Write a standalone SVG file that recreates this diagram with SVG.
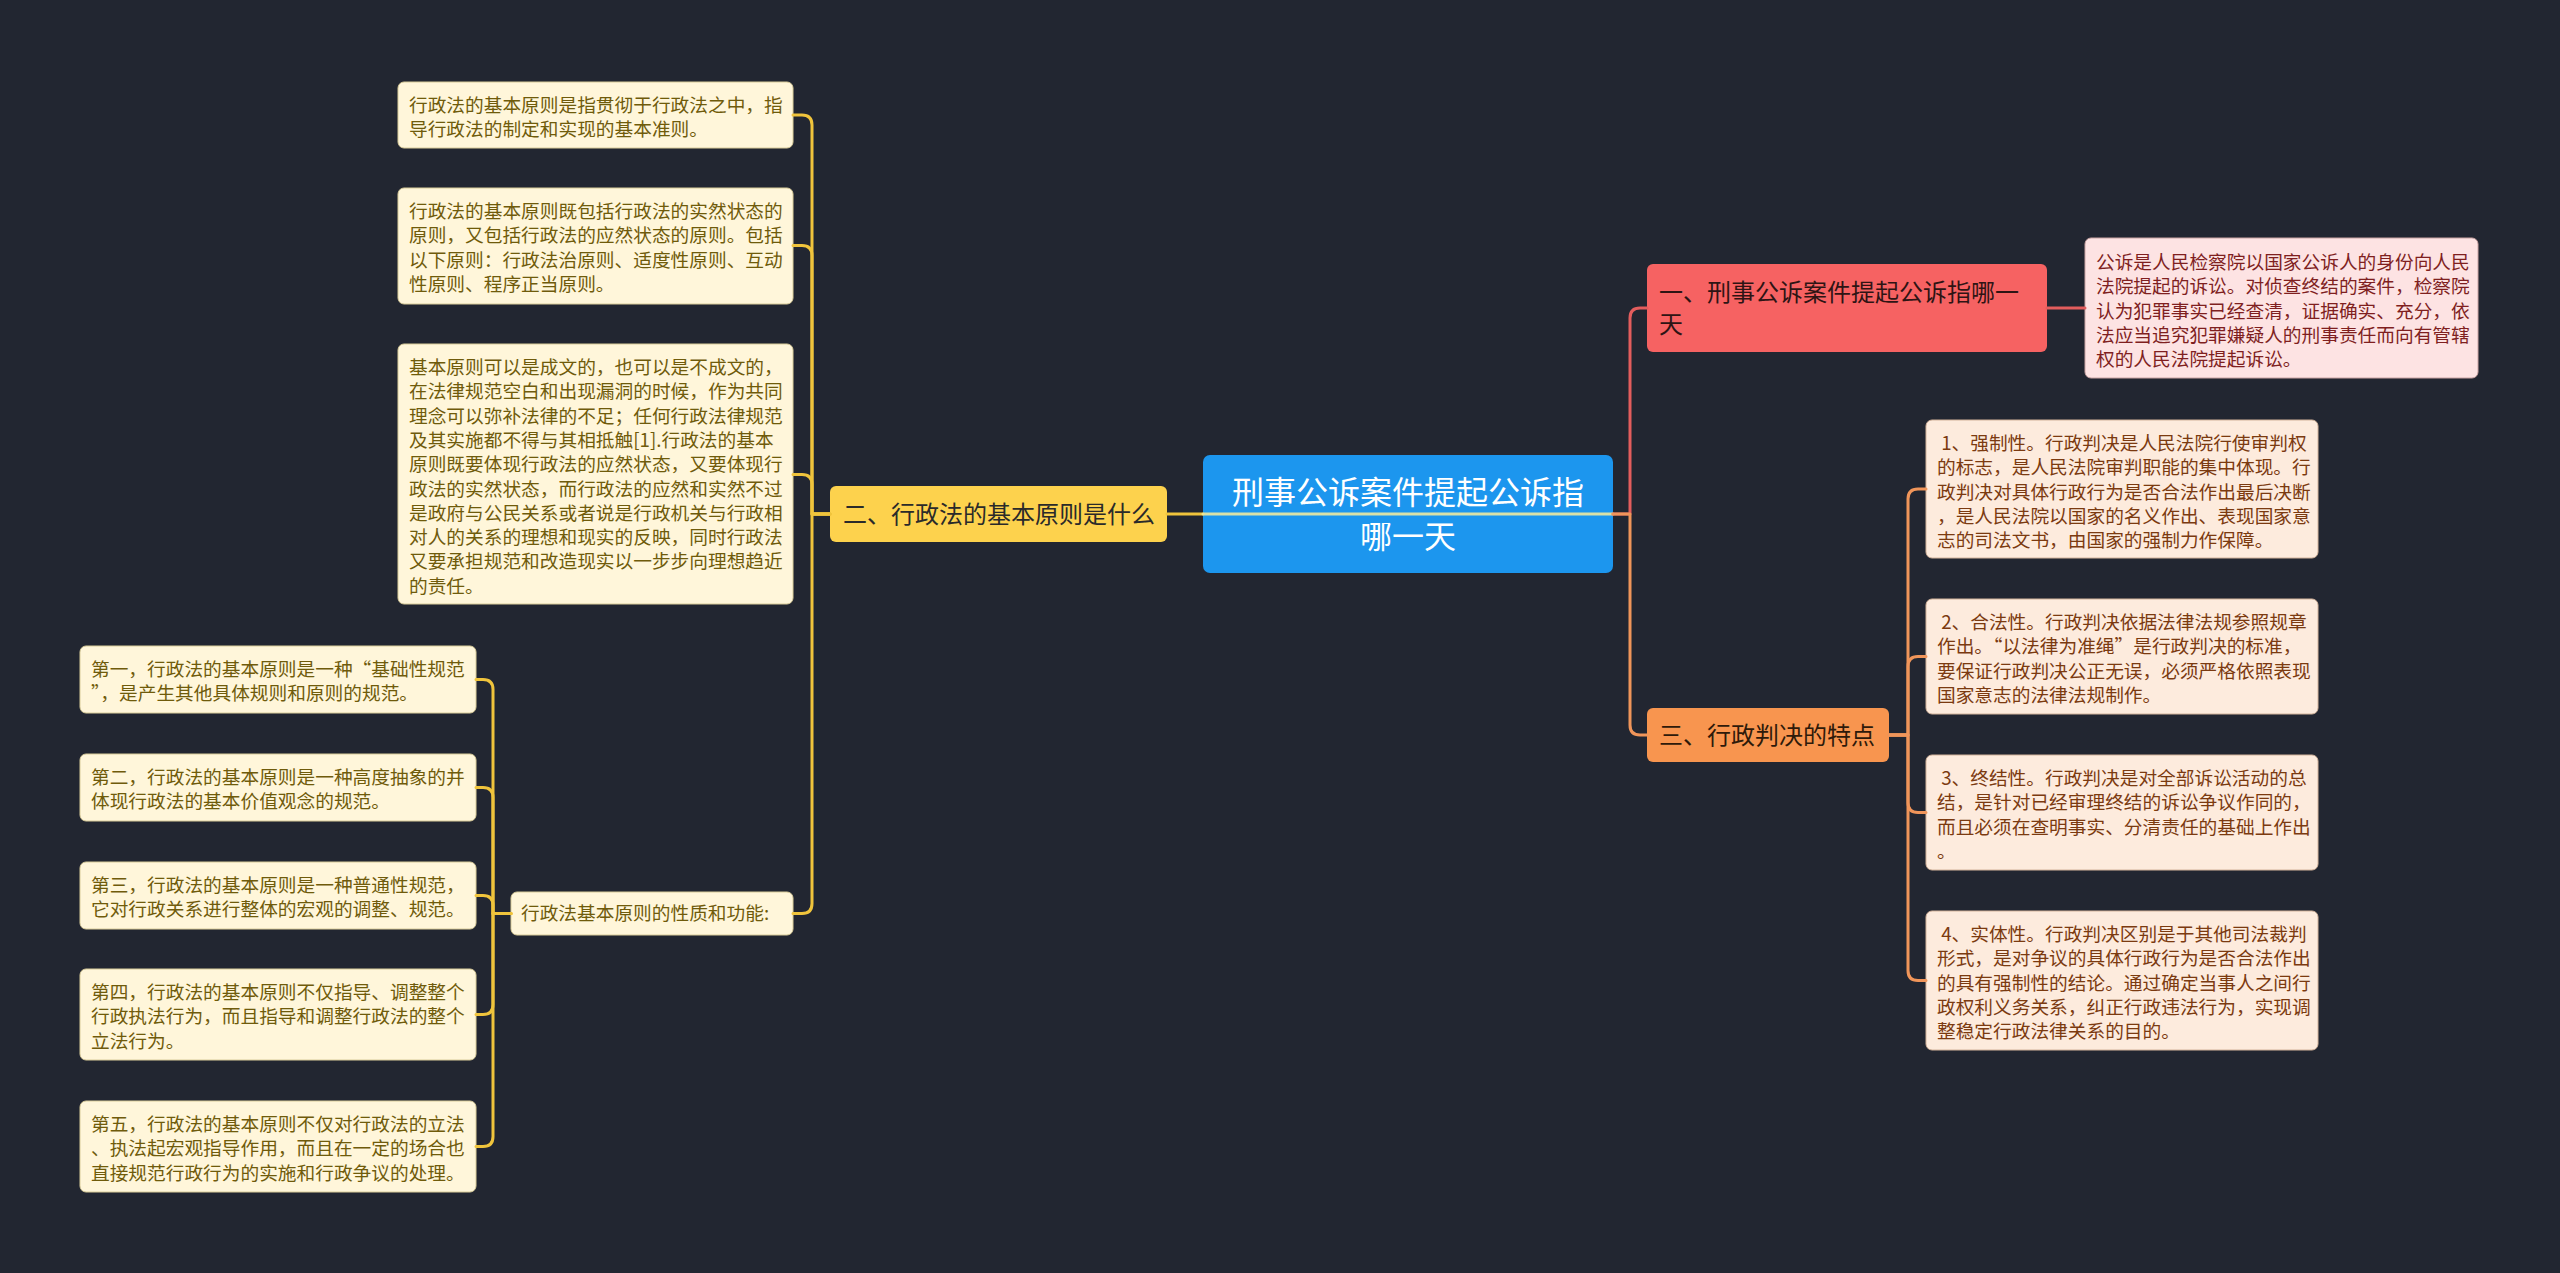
<svg xmlns="http://www.w3.org/2000/svg" width="2560" height="1273" viewBox="0 0 2560 1273">
<style>
text{font-family:"Noto Sans CJK SC","Microsoft YaHei",sans-serif}
.lf{font-size:18.7px}
.yl rect{fill:#FFF6DA;stroke:#d9cc9a;stroke-width:1}
.yl text{fill:#6F5B0B}
.rl rect{fill:#FDE3E3;stroke:#c9a3a3;stroke-width:1}
.rl text{fill:#7F1F1F}
.ol rect{fill:#FDEBDD;stroke:#d3b39b;stroke-width:1}
.ol text{fill:#7B3A10}
.br{font-size:24px}
.c{fill:none;stroke-width:3;stroke-linecap:round;stroke-linejoin:round}
.cy{stroke:#F0C43C}
.cr{stroke:#E35D5D}
.co{stroke:#F0955A}
</style>
<rect x="0" y="0" width="2560" height="1273" fill="#222631"/>

<g id="central">
<rect x="1203" y="455" width="410" height="118" rx="7" fill="#1C96EE"/>
<text x="1408" y="504" font-size="32" fill="#FFFFFF" text-anchor="middle">刑事公诉案件提起公诉指</text>
<text x="1408" y="548" font-size="32" fill="#FFFFFF" text-anchor="middle">哪一天</text>
</g>

<g id="branch2">
<rect x="830" y="486" width="337" height="56" rx="6" fill="#FDD24D"/>
<text class="br" x="843" y="523" fill="#2A2A2A">二、行政法的基本原则是什么</text>
</g>

<g id="branch1">
<rect x="1647" y="264" width="400" height="88" rx="6" fill="#F66262"/>
<text class="br" fill="#2E1414"><tspan x="1659" y="301">一、刑事公诉案件提起公诉指哪一</tspan><tspan x="1659" y="333">天</tspan></text>
</g>

<g id="branch3">
<rect x="1647" y="708" width="242" height="54" rx="6" fill="#F8954F"/>
<text class="br" x="1659" y="744" fill="#2E1A0A">三、行政判决的特点</text>
</g>

<g id="leafA1" class="yl">
<rect x="398" y="82" width="395" height="66" rx="6"/>
<text class="lf"><tspan x="409" y="112">行政法的基本原则是指贯彻于行政法之中，指</tspan><tspan x="409" y="136.3">导行政法的制定和实现的基本准则。</tspan></text>
</g>

<g id="leafA2" class="yl">
<rect x="398" y="188" width="395" height="116" rx="6"/>
<text class="lf"><tspan x="409" y="218">行政法的基本原则既包括行政法的实然状态的</tspan><tspan x="409" y="242.3">原则，又包括行政法的应然状态的原则。包括</tspan><tspan x="409" y="266.6">以下原则：行政法治原则、适度性原则、互动</tspan><tspan x="409" y="290.9">性原则、程序正当原则。</tspan></text>
</g>

<g id="leafA3" class="yl">
<rect x="398" y="344" width="395" height="260" rx="6"/>
<text class="lf"><tspan x="409" y="374">基本原则可以是成文的，也可以是不成文的，</tspan><tspan x="409" y="398.3">在法律规范空白和出现漏洞的时候，作为共同</tspan><tspan x="409" y="422.6">理念可以弥补法律的不足；任何行政法律规范</tspan><tspan x="409" y="446.9">及其实施都不得与其相抵触[1].行政法的基本</tspan><tspan x="409" y="471.2">原则既要体现行政法的应然状态，又要体现行</tspan><tspan x="409" y="495.5">政法的实然状态，而行政法的应然和实然不过</tspan><tspan x="409" y="519.8">是政府与公民关系或者说是行政机关与行政相</tspan><tspan x="409" y="544.1">对人的关系的理想和现实的反映，同时行政法</tspan><tspan x="409" y="568.4">又要承担规范和改造现实以一步步向理想趋近</tspan><tspan x="409" y="592.7">的责任。</tspan></text>
</g>

<g id="subA4" class="yl">
<rect x="511" y="892" width="282" height="43" rx="6"/>
<text class="lf" x="521" y="920">行政法基本原则的性质和功能:</text>
</g>

<g id="leafB1" class="yl">
<rect x="80" y="646" width="396" height="67" rx="6"/>
<text class="lf"><tspan x="91" y="676">第一，行政法的基本原则是一种“基础性规范</tspan><tspan x="91" y="700.3">”，是产生其他具体规则和原则的规范。</tspan></text>
</g>

<g id="leafB2" class="yl">
<rect x="80" y="754" width="396" height="67" rx="6"/>
<text class="lf"><tspan x="91" y="784">第二，行政法的基本原则是一种高度抽象的并</tspan><tspan x="91" y="808.3">体现行政法的基本价值观念的规范。</tspan></text>
</g>

<g id="leafB3" class="yl">
<rect x="80" y="862" width="396" height="67" rx="6"/>
<text class="lf"><tspan x="91" y="892">第三，行政法的基本原则是一种普通性规范，</tspan><tspan x="91" y="916.3">它对行政关系进行整体的宏观的调整、规范。</tspan></text>
</g>

<g id="leafB4" class="yl">
<rect x="80" y="969" width="396" height="91" rx="6"/>
<text class="lf"><tspan x="91" y="999">第四，行政法的基本原则不仅指导、调整整个</tspan><tspan x="91" y="1023.3">行政执法行为，而且指导和调整行政法的整个</tspan><tspan x="91" y="1047.6">立法行为。</tspan></text>
</g>

<g id="leafB5" class="yl">
<rect x="80" y="1101" width="396" height="91" rx="6"/>
<text class="lf"><tspan x="91" y="1131">第五，行政法的基本原则不仅对行政法的立法</tspan><tspan x="91" y="1155.3">、执法起宏观指导作用，而且在一定的场合也</tspan><tspan x="91" y="1179.6">直接规范行政行为的实施和行政争议的处理。</tspan></text>
</g>

<g id="leafR1" class="rl">
<rect x="2085" y="238" width="393" height="140" rx="6"/>
<text class="lf"><tspan x="2096" y="269">公诉是人民检察院以国家公诉人的身份向人民</tspan><tspan x="2096" y="293.3">法院提起的诉讼。对侦查终结的案件，检察院</tspan><tspan x="2096" y="317.6">认为犯罪事实已经查清，证据确实、充分，依</tspan><tspan x="2096" y="341.9">法应当追究犯罪嫌疑人的刑事责任而向有管辖</tspan><tspan x="2096" y="366.2">权的人民法院提起诉讼。</tspan></text>
</g>

<g id="leafO1" class="ol">
<rect x="1926" y="420" width="392" height="138" rx="6"/>
<text class="lf" xml:space="preserve"><tspan x="1937" y="450"> 1、强制性。行政判决是人民法院行使审判权</tspan><tspan x="1937" y="474.3">的标志，是人民法院审判职能的集中体现。行</tspan><tspan x="1937" y="498.6">政判决对具体行政行为是否合法作出最后决断</tspan><tspan x="1937" y="522.9">，是人民法院以国家的名义作出、表现国家意</tspan><tspan x="1937" y="547.2">志的司法文书，由国家的强制力作保障。</tspan></text>
</g>

<g id="leafO2" class="ol">
<rect x="1926" y="599" width="392" height="115" rx="6"/>
<text class="lf" xml:space="preserve"><tspan x="1937" y="629"> 2、合法性。行政判决依据法律法规参照规章</tspan><tspan x="1937" y="653.3">作出。“以法律为准绳”是行政判决的标准，</tspan><tspan x="1937" y="677.6">要保证行政判决公正无误，必须严格依照表现</tspan><tspan x="1937" y="701.9">国家意志的法律法规制作。</tspan></text>
</g>

<g id="leafO3" class="ol">
<rect x="1926" y="755" width="392" height="115" rx="6"/>
<text class="lf" xml:space="preserve"><tspan x="1937" y="785"> 3、终结性。行政判决是对全部诉讼活动的总</tspan><tspan x="1937" y="809.3">结，是针对已经审理终结的诉讼争议作同的，</tspan><tspan x="1937" y="833.6">而且必须在查明事实、分清责任的基础上作出</tspan><tspan x="1937" y="857.9">。</tspan></text>
</g>

<g id="leafO4" class="ol">
<rect x="1926" y="911" width="392" height="139" rx="6"/>
<text class="lf" xml:space="preserve"><tspan x="1937" y="941"> 4、实体性。行政判决区别是于其他司法裁判</tspan><tspan x="1937" y="965.3">形式，是对争议的具体行政行为是否合法作出</tspan><tspan x="1937" y="989.6">的具有强制性的结论。通过确定当事人之间行</tspan><tspan x="1937" y="1013.9">政权利义务关系，纠正行政违法行为，实现调</tspan><tspan x="1937" y="1038.2">整稳定行政法律关系的目的。</tspan></text>
</g>

<g id="connectors">
<path class="c cy" d="M1167 514 H1203"/>
<path class="c" d="M1203 514 H1613" stroke="#EDE9A0" stroke-opacity="0.9"/>
<path class="c cy" d="M830 514 H812 V125 Q812 115 802 115 H793"/>
<path class="c cy" d="M830 514 H812 V255.5 Q812 245.5 802 245.5 H793"/>
<path class="c cy" d="M830 514 H812 V484.5 Q812 474.5 802 474.5 H793"/>
<path class="c cy" d="M830 514 H812 V903.5 Q812 913.5 802 913.5 H793"/>
<path class="c cy" d="M511 913.5 H493 V689.5 Q493 679.5 483 679.5 H476"/>
<path class="c cy" d="M511 913.5 H493 V797.5 Q493 787.5 483 787.5 H476"/>
<path class="c cy" d="M511 913.5 H493 V905.5 Q493 895.5 483 895.5 H476"/>
<path class="c cy" d="M511 913.5 H493 V1004.5 Q493 1014.5 483 1014.5 H476"/>
<path class="c cy" d="M511 913.5 H493 V1136.5 Q493 1146.5 483 1146.5 H476"/>
<path class="c cr" d="M1613 514 H1630 V318 Q1630 308 1640 308 H1647"/>
<path class="c co" d="M1613 514 H1630 V725 Q1630 735 1640 735 H1647"/>
<path class="c cr" d="M2047 308 H2085"/>
<path class="c co" d="M1889 735 H1908 V499 Q1908 489 1918 489 H1926"/>
<path class="c co" d="M1889 735 H1908 V666.5 Q1908 656.5 1918 656.5 H1926"/>
<path class="c co" d="M1889 735 H1908 V802.5 Q1908 812.5 1918 812.5 H1926"/>
<path class="c co" d="M1889 735 H1908 V970.5 Q1908 980.5 1918 980.5 H1926"/>
</g>
</svg>
